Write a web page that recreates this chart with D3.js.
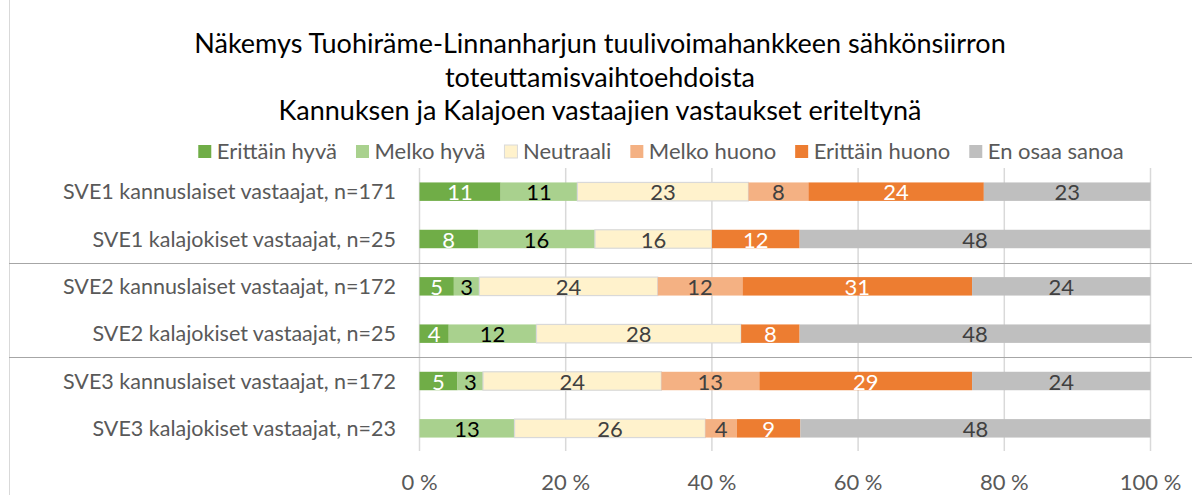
<!DOCTYPE html>
<html>
<head>
<meta charset="utf-8">
<script src="https://cdn.jsdelivr.net/npm/d3@7"></script>
<style>
	body{margin:0;background:#fff;}
	svg{display:block;font-family:Lato,"Open Sans",sans-serif;}
</style>
</head>
<body>
<svg id="chart" width="1192" height="495"></svg>
<script>
//----------------------------------------------------------- DATA
var titleLines = ["Näkemys Tuohiräme-Linnanharjun tuulivoimahankkeen sähkönsiirron",
	"toteuttamisvaihtoehdoista",
	"Kannuksen ja Kalajoen vastaajien vastaukset eriteltynä"];

var categories = ["SVE1 kannuslaiset vastaajat, n=171",
	"SVE1 kalajokiset vastaajat, n=25",
	"SVE2 kannuslaiset vastaajat, n=172",
	"SVE2 kalajokiset vastaajat, n=25",
	"SVE3 kannuslaiset vastaajat, n=172",
	"SVE3 kalajokiset vastaajat, n=23"];

var seriesNames = ["Erittäin hyvä","Melko hyvä","Neutraali","Melko huono","Erittäin huono","En osaa sanoa"];

// percentages per category, same order as seriesNames
var sve1Kannus  = [11.1, 10.5, 23.4, 8.2, 24.0, 22.8];
var sve1Kalajoki = [8, 16, 16, 0, 12, 48];
var sve2Kannus  = [4.7, 3.49, 24.4, 11.6, 31.4, 24.4];
var sve2Kalajoki = [4, 12, 28, 0, 8, 48];
var sve3Kannus  = [5.2, 3.49, 24.4, 13.4, 29.1, 24.4];
var sve3Kalajoki = [0, 13.0, 26.1, 4.3, 8.7, 47.9];

var rows = [sve1Kannus, sve1Kalajoki, sve2Kannus, sve2Kalajoki, sve3Kannus, sve3Kalajoki];

var xTicks = [0, 20, 40, 60, 80, 100];

var colors = ["#70AD47","#A9D18E","#FFF2CC","#F4B183","#ED7D31","#BFBFBF"];
var labelColors = ["#ffffff","#000000","#404040","#404040","#ffffff","#404040"];

//----------------------------------------------------------- SETUP
var svg = d3.select("#chart");
var W = 1192, H = 495;

var x = d3.scaleLinear().domain([0,100]).range([419.5,1150.5]);
var y = d3.scaleBand().domain(categories).range([168,452]).paddingInner(0.61).paddingOuter(0.305);

// chart area left border
svg.append("line")
	.attr("x1",9.5).attr("x2",9.5).attr("y1",0).attr("y2",H)
	.attr("stroke","#d9d9d9").attr("stroke-width",1);

//----------------------------------------------------------- TITLE
svg.append("g").selectAll("text").data(titleLines).enter()
	.append("text")
		.attr("x",600)
		.attr("y",(d,i)=>53+i*33.5)
		.attr("text-anchor","middle")
		.attr("font-size",27)
		.attr("fill","#000")
		.text(d=>d);

//----------------------------------------------------------- LEGEND
var legend = svg.append("g");
var lx = 0, gap = 19;
seriesNames.forEach(function(name,i){
	var g = legend.append("g").attr("transform","translate("+lx+",0)");
	g.append("rect")
		.attr("x",0).attr("y",-6.5).attr("width",13).attr("height",13)
		.attr("fill",colors[i])
		.attr("stroke",i==2?"#d9d9d9":"none");
	var t = g.append("text")
		.attr("x",18.5).attr("y",7.5)
		.attr("font-size",22)
		.attr("fill","#595959")
		.text(name);
	lx += 18.5 + t.node().getComputedTextLength() + gap;
});
lx -= gap;
legend.attr("transform","translate("+(661-lx/2)+",151.5)");

//----------------------------------------------------------- GRID + AXIS
svg.append("g").selectAll("line").data(xTicks).enter()
	.append("line")
		.attr("x1",d=>x(d)).attr("x2",d=>x(d))
		.attr("y1",168).attr("y2",451)
		.attr("stroke","#d9d9d9").attr("stroke-width",1.5);

svg.append("g").selectAll("text").data(xTicks).enter()
	.append("text")
		.attr("x",d=>x(d)).attr("y",490)
		.attr("text-anchor","middle")
		.attr("font-size",22)
		.attr("fill","#595959")
		.text(d=>d+" %");

svg.append("g").selectAll("text").data(categories).enter()
	.append("text")
		.attr("x",396).attr("y",d=>y(d)+y.bandwidth()/2+7.5)
		.attr("text-anchor","end")
		.attr("font-size",21.5)
		.attr("fill","#595959")
		.text(d=>d);

//----------------------------------------------------------- SEPARATORS
var sepAfter = [1,3];
svg.append("g").selectAll("line").data(sepAfter).enter()
	.append("line")
		.attr("x1",9).attr("x2",W)
		.attr("y1",d=>Math.round((y(categories[d])+y(categories[d+1])+y.bandwidth())/2)+0.5)
		.attr("y2",d=>Math.round((y(categories[d])+y(categories[d+1])+y.bandwidth())/2)+0.5)
		.attr("stroke","#a6a6a6").attr("stroke-width",1);

//----------------------------------------------------------- BARS
var segs = [];
rows.forEach(function(vals,r){
	var acc = 0;
	vals.forEach(function(v,s){
		segs.push({cat:categories[r],s:s,x0:acc,x1:acc+v,v:v});
		acc += v;
	});
});

var bars = svg.append("g");
bars.selectAll("rect").data(segs.filter(d=>d.v>0)).enter()
	.append("rect")
		.attr("x",d=>x(d.x0))
		.attr("y",d=>y(d.cat))
		.attr("width",d=>x(d.x1)-x(d.x0))
		.attr("height",y.bandwidth())
		.attr("fill",d=>colors[d.s])
		.attr("stroke",d=>d.s==2?"#d9d9d9":"none")
		.attr("stroke-width",1.2);

bars.selectAll("text").data(segs.filter(d=>d.v>0)).enter()
	.append("text")
		.attr("x",d=>(x(d.x0)+x(d.x1))/2)
		.attr("y",d=>y(d.cat)+y.bandwidth()/2+8.5)
		.attr("text-anchor","middle")
		.attr("font-size",22)
		.attr("fill",d=>labelColors[d.s])
		.text(d=>d3.format(".0f")(d.v));
</script>
</body>
</html>
